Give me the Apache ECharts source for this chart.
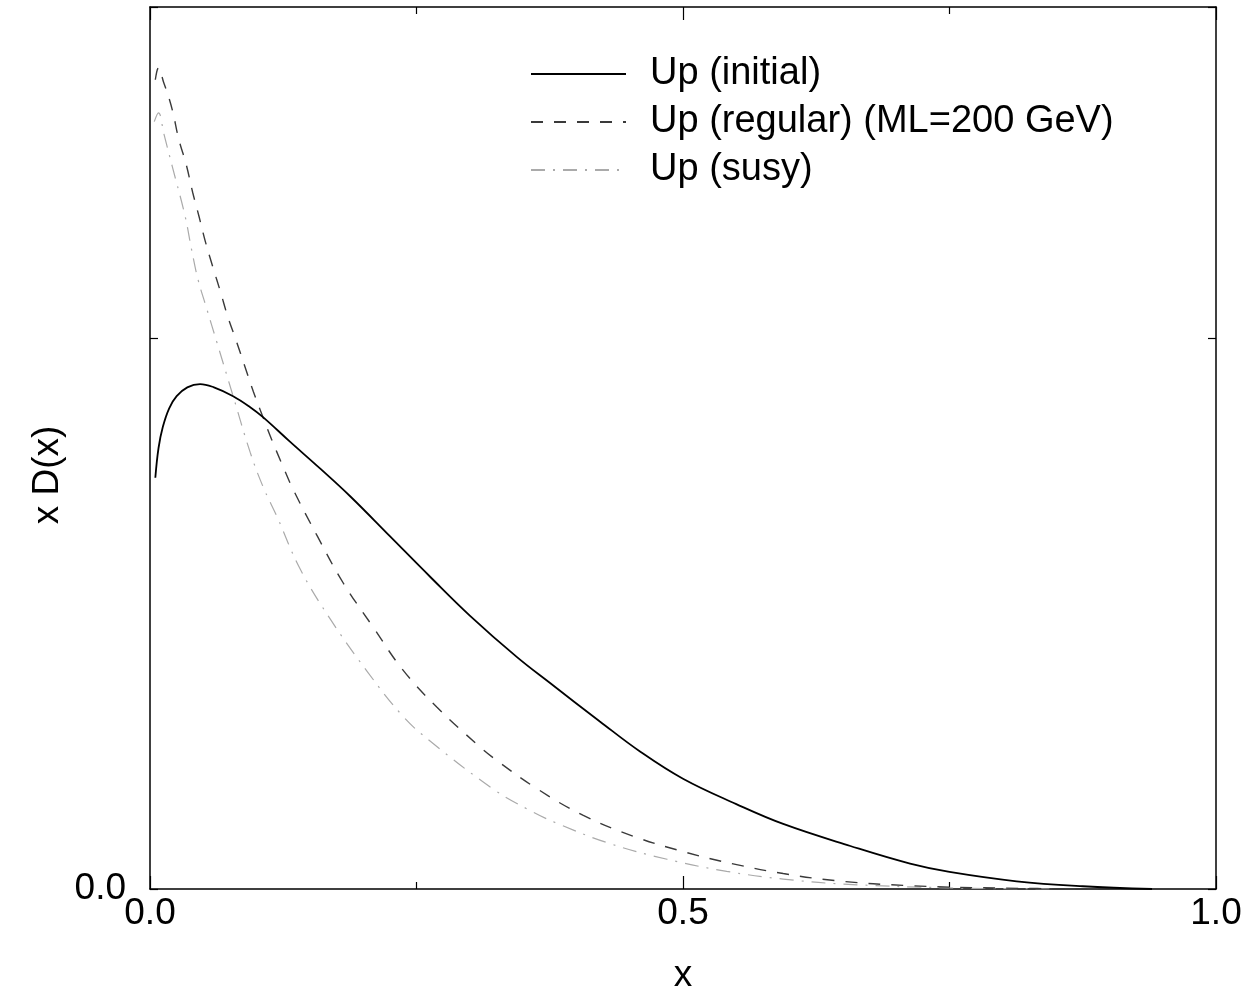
<!DOCTYPE html>
<html>
<head>
<meta charset="utf-8">
<script src="https://cdn.jsdelivr.net/npm/echarts@6/dist/echarts.min.js"></script>
<style>
  html, body { margin: 0; padding: 0; background: #fff; }
  #chart { width: 1254px; height: 999px; }
</style>
</head>
<body>
<div id="chart"></div>
<script>
// Momentum-fraction distributions x·D(x) of the up quark
const seriesNames = ['Up (initial)', 'Up (regular) (ML=200 GeV)', 'Up (susy)'];

const initialX = [0.005, 0.008, 0.012, 0.018, 0.025, 0.035, 0.047, 0.060, 0.078, 0.094, 0.106, 0.131, 0.160, 0.188, 0.225, 0.263, 0.300, 0.344, 0.375, 0.422, 0.460, 0.500, 0.550, 0.594, 0.657, 0.713, 0.750, 0.813, 0.875, 0.940];
const initialY = [0.373, 0.400, 0.419, 0.436, 0.447, 0.455, 0.458, 0.455, 0.447, 0.437, 0.428, 0.406, 0.381, 0.356, 0.320, 0.283, 0.248, 0.2105, 0.187, 0.152, 0.1245, 0.100, 0.077, 0.059, 0.039, 0.023, 0.0155, 0.0070, 0.0025, 0.0];

const regularX = [0.005, 0.008, 0.013, 0.017, 0.0216, 0.027, 0.034, 0.040, 0.046, 0.052, 0.059, 0.066, 0.073, 0.081, 0.089, 0.097, 0.106, 0.114, 0.124, 0.134, 0.157, 0.181, 0.209, 0.237, 0.269, 0.307, 0.322, 0.363, 0.406, 0.453, 0.500, 0.547, 0.594, 0.644, 0.713, 0.800, 0.900];
const regularY = [0.734, 0.745, 0.731, 0.720, 0.704, 0.680, 0.657, 0.632, 0.610, 0.587, 0.564, 0.542, 0.519, 0.497, 0.474, 0.451, 0.428, 0.408, 0.385, 0.363, 0.320, 0.278, 0.238, 0.199, 0.165, 0.131, 0.119, 0.091, 0.067, 0.048, 0.034, 0.0228, 0.0140, 0.0075, 0.0030, 0.0008, 0.0];

const susyX = [0.004, 0.008, 0.013, 0.021, 0.033, 0.039, 0.045, 0.053, 0.063, 0.078, 0.094, 0.106, 0.119, 0.141, 0.169, 0.204, 0.237, 0.263, 0.322, 0.354, 0.382, 0.432, 0.485, 0.541, 0.594, 0.650, 0.750, 0.850];
const susyY = [0.696, 0.704, 0.685, 0.655, 0.610, 0.580, 0.553, 0.527, 0.495, 0.447, 0.396, 0.365, 0.338, 0.290, 0.245, 0.197, 0.157, 0.134, 0.0906, 0.0725, 0.0595, 0.041, 0.027, 0.016, 0.009, 0.0045, 0.001, 0.0];

const xTickLabels = ['0.0', '0.5', '1.0'];
const yTickLabels = ['0.0'];

const FONT = '"Liberation Sans", Arial, Helvetica, sans-serif';

function pairs(xs, ys) {
  return xs.map((x, i) => [x, ys[i]]);
}

// every axis keeps to its own side of the frame
const frameLine = { show: true, onZero: false, lineStyle: { color: '#000', width: 1.5 } };
const majorTick = { show: true, inside: true, length: 13, lineStyle: { color: '#000', width: 1.2 } };
const minorTick = { show: true, splitNumber: 2, length: 7, lineStyle: { color: '#000', width: 1.2 } };
const yTick = { show: true, inside: true, length: 8, lineStyle: { color: '#000', width: 1.2 } };

const chart = echarts.init(document.getElementById('chart'), null, { renderer: 'canvas' });

chart.setOption({
  backgroundColor: '#fff',
  animation: false,
  grid: { left: 150, right: 38, top: 7, bottom: 109, containLabel: false },
  legend: {
    orient: 'vertical',
    left: 525,
    top: 45,
    itemWidth: 95,
    itemHeight: 20,
    itemGap: 0,
    itemStyle: { opacity: 0, borderWidth: 0 },
    textStyle: {
      fontFamily: FONT, fontSize: 38, color: '#000',
      lineHeight: 48, padding: [0, 0, 0, 19]
    },
    data: seriesNames
  },
  xAxis: [
    {
      type: 'value', position: 'bottom', min: 0, max: 1, interval: 0.5,
      axisLine: frameLine, axisTick: majorTick, minorTick: minorTick,
      splitLine: { show: false },
      axisLabel: {
        fontFamily: FONT, fontSize: 37, color: '#000', margin: 6,
        formatter: v => {
          const i = Math.round(v / 0.5);
          return Math.abs(v - i * 0.5) < 1e-9 ? (xTickLabels[i] || '') : '';
        }
      },
      name: 'x', nameLocation: 'middle', nameGap: 68,
      nameTextStyle: { fontFamily: FONT, fontSize: 37, color: '#000' }
    },
    {
      type: 'value', position: 'top', min: 0, max: 1, interval: 0.5,
      axisLine: frameLine, axisTick: majorTick, minorTick: minorTick,
      splitLine: { show: false },
      axisLabel: { show: false }
    }
  ],
  yAxis: [
    {
      type: 'value', position: 'left', min: 0, max: 0.8, interval: 0.5,
      axisLine: frameLine, axisTick: yTick,
      splitLine: { show: false },
      axisLabel: {
        fontFamily: FONT, fontSize: 37, color: '#000', margin: 24,
        formatter: v => (Math.abs(v) < 1e-9 ? yTickLabels[0] : '')
      }
    },
    {
      type: 'value', position: 'right', min: 0, max: 0.8, interval: 0.5,
      axisLine: frameLine, axisTick: yTick,
      splitLine: { show: false },
      axisLabel: { show: false }
    }
  ],
  graphic: [
    {
      type: 'text',
      x: 48, y: 475,
      rotation: Math.PI / 2,
      style: {
        text: 'x D(x)',
        fontFamily: FONT, fontSize: 37, fill: '#000',
        align: 'center', verticalAlign: 'middle'
      }
    }
  ],
  series: [
    {
      name: seriesNames[0], type: 'line', xAxisIndex: 0, yAxisIndex: 0,
      data: pairs(initialX, initialY), smooth: 0.4, symbol: 'none',
      lineStyle: { color: '#000', width: 1.8, type: 'solid' },
      itemStyle: { color: '#000' }, z: 3
    },
    {
      name: seriesNames[1], type: 'line', xAxisIndex: 0, yAxisIndex: 0,
      data: pairs(regularX, regularY), smooth: 0.4, symbol: 'none',
      lineStyle: { color: '#3a3a3a', width: 1.4, type: [12, 11] },
      itemStyle: { color: '#3a3a3a' }, z: 2
    },
    {
      name: seriesNames[2], type: 'line', xAxisIndex: 0, yAxisIndex: 0,
      data: pairs(susyX, susyY), smooth: 0.4, symbol: 'none',
      lineStyle: { color: '#aaaaaa', width: 1.2, type: [14, 8, 2, 8] },
      itemStyle: { color: '#aaaaaa' }, z: 1
    }
  ]
});
</script>
</body>
</html>
